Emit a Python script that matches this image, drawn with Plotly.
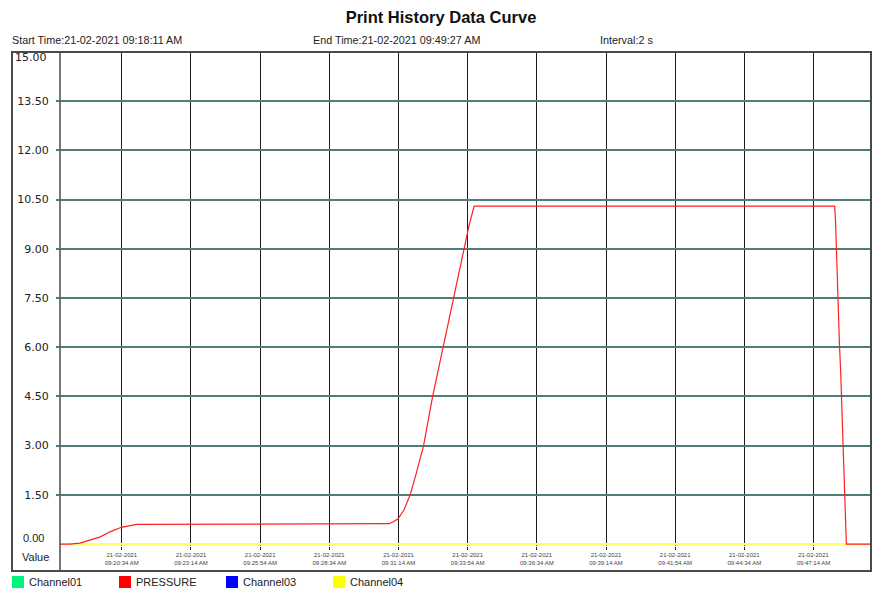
import plotly.graph_objects as go

# ---------------- data ----------------
title_text = "Print History Data Curve"
start_label = "Start Time:21-02-2021 09:18:11 AM"
end_label = "End Time:21-02-2021 09:49:27 AM"
interval_label = "Interval:2 s"

x_start = "2021-02-21 09:18:11"
x_end = "2021-02-21 09:49:27"

tick_times = ["2021-02-21 09:20:34", "2021-02-21 09:23:14", "2021-02-21 09:25:54",
              "2021-02-21 09:28:34", "2021-02-21 09:31:14", "2021-02-21 09:33:54",
              "2021-02-21 09:36:34", "2021-02-21 09:39:14", "2021-02-21 09:41:54",
              "2021-02-21 09:44:34", "2021-02-21 09:47:14"]
tick_clock = ["09:20:34 AM", "09:23:14 AM", "09:25:54 AM", "09:28:34 AM", "09:31:14 AM",
              "09:33:54 AM", "09:36:34 AM", "09:39:14 AM", "09:41:54 AM", "09:44:34 AM",
              "09:47:14 AM"]
tick_date = "21-02-2021"

y_ticks = [1.5, 3.0, 4.5, 6.0, 7.5, 9.0, 10.5, 12.0, 13.5]
y_tick_text = ["1.50", "3.00", "4.50", "6.00", "7.50", "9.00", "10.50", "12.00", "13.50"]
y_min_label = "0.00"
y_max_label = "15.00"
y_axis_name = "Value"

pressure_time = [
    "2021-02-21 09:18:11", "2021-02-21 09:18:34", "2021-02-21 09:18:57", "2021-02-21 09:19:20",
    "2021-02-21 09:19:43", "2021-02-21 09:20:08", "2021-02-21 09:20:33", "2021-02-21 09:21:08",
    "2021-02-21 09:30:44", "2021-02-21 09:30:52", "2021-02-21 09:31:02", "2021-02-21 09:31:13",
    "2021-02-21 09:31:26", "2021-02-21 09:31:41", "2021-02-21 09:31:56", "2021-02-21 09:32:12",
    "2021-02-21 09:32:33", "2021-02-21 09:32:57", "2021-02-21 09:33:21", "2021-02-21 09:33:45",
    "2021-02-21 09:33:57", "2021-02-21 09:34:09",
    "2021-02-21 09:48:03", "2021-02-21 09:48:05", "2021-02-21 09:48:07", "2021-02-21 09:48:10",
    "2021-02-21 09:48:12", "2021-02-21 09:48:14", "2021-02-21 09:48:17", "2021-02-21 09:48:19",
    "2021-02-21 09:48:21", "2021-02-21 09:48:24", "2021-02-21 09:48:26", "2021-02-21 09:48:28",
    "2021-02-21 09:48:30", "2021-02-21 09:49:27",
]
pressure_value = [
    0.0, 0.0, 0.03, 0.11,
    0.21, 0.38, 0.51, 0.60,
    0.60, 0.62, 0.68, 0.77,
    1.02, 1.50, 2.20, 3.00,
    4.50, 6.00, 7.50, 9.00,
    9.70, 10.30,
    10.30, 9.82, 8.90, 7.99,
    7.07, 6.11, 5.19, 4.28,
    3.36, 2.45, 1.53, 0.56,
    0.0, 0.0,
]

ch04_time = [x_start, x_end]
ch04_value = [0.0, 0.0]

legend_names = ["Channel01", "PRESSURE", "Channel03", "Channel04"]
legend_colors = ["#00f57a", "#ff0000", "#0000ff", "#ffff00"]

# ---------------- layout helpers ----------------
W, H = 874, 589
L, R, T, B = 60, 3, 52, 43
PW = W - L - R
PH = H - T - B


def px_x(p):
    return (p - L) / PW


def px_y(p):
    return (H - B - p) / PH


fig = go.Figure()

fig.add_trace(go.Scatter(x=ch04_time, y=ch04_value, mode="lines",
                         line=dict(color="#ffff66", width=2.2),
                         name=legend_names[3], showlegend=False, hoverinfo="skip"))
fig.add_trace(go.Scatter(x=pressure_time, y=pressure_value, mode="lines",
                         line=dict(color="#ff2020", width=1.2),
                         name=legend_names[1], showlegend=False))

tick_text = [f"{tick_date}<br>{c}" for c in tick_clock]

fig.update_xaxes(
    type="date", range=[x_start, x_end],
    tickmode="array", tickvals=tick_times, ticktext=tick_text,
    showgrid=True, gridcolor="#1a1a1a", gridwidth=1,
    ticks="outside", ticklen=3, tickcolor="#1a1a1a", tickwidth=1,
    tickfont=dict(family="Liberation Sans, Arial", size=6, color="#444444"),
    showline=False, zeroline=False, fixedrange=True,
)
fig.update_yaxes(
    range=[-0.06, 15], tickmode="array", tickvals=y_ticks, ticktext=y_tick_text,
    showgrid=True, gridcolor="#4f7d7b", gridwidth=1.5,
    ticks="outside", ticklen=3, tickcolor="#4f7d7b", tickwidth=1.5,
    tickfont=dict(family="DejaVu Sans, Verdana, sans-serif", size=11, color="#222222"),
    ticklabelstandoff=5,
    showline=False, zeroline=False, fixedrange=True,
)

shapes = []
# outer frame
shapes.append(dict(type="rect", xref="paper", yref="paper",
                   x0=px_x(12), x1=px_x(871), y0=px_y(571), y1=px_y(52),
                   line=dict(color="#4a4a4a", width=2), fillcolor="rgba(0,0,0,0)", layer="above"))
# divider between label column and plot
shapes.append(dict(type="line", xref="paper", yref="paper",
                   x0=px_x(60), x1=px_x(60), y0=px_y(571), y1=px_y(52),
                   line=dict(color="#4a4a4a", width=1.5), layer="above"))

annotations = []
# y end labels
annotations.append(dict(text=y_min_label, xref="paper", yref="paper", x=px_x(46), y=px_y(538),
                        xanchor="right", yanchor="middle", showarrow=False,
                        font=dict(family="Liberation Sans, Arial", size=11, color="#222222")))
annotations.append(dict(text=y_max_label, xref="paper", yref="paper", x=px_x(49), y=px_y(57),
                        xanchor="right", yanchor="middle", showarrow=False,
                        font=dict(family="DejaVu Sans, Verdana, sans-serif", size=11, color="#222222")))
annotations.append(dict(text=y_axis_name, xref="paper", yref="paper", x=px_x(35), y=px_y(557),
                        xanchor="center", yanchor="middle", showarrow=False,
                        font=dict(family="Liberation Sans, Arial", size=11, color="#222222")))
# header texts
for txt, xp in [(start_label, 10), (end_label, 311), (interval_label, 598)]:
    annotations.append(dict(text=txt, xref="paper", yref="paper", x=px_x(xp), y=px_y(40),
                            xanchor="left", yanchor="middle", showarrow=False,
                            font=dict(family="Liberation Sans, Arial", size=10.8, color="#222222")))

# legend (squares + names)
sq_left = [12, 119, 226, 333]
for name, col, xl in zip(legend_names, legend_colors, sq_left):
    shapes.append(dict(type="rect", xref="paper", yref="paper",
                       x0=px_x(xl), x1=px_x(xl + 12), y0=px_y(588), y1=px_y(576),
                       line=dict(width=0), fillcolor=col, layer="above"))
    annotations.append(dict(text=name, xref="paper", yref="paper", x=px_x(xl + 15), y=px_y(582),
                            xanchor="left", yanchor="middle", showarrow=False,
                            font=dict(family="Liberation Sans, Arial", size=11, color="#222222")))

fig.update_layout(
    width=W, height=H,
    margin=dict(l=L, r=R, t=T, b=B, pad=0),
    paper_bgcolor="white", plot_bgcolor="white",
    showlegend=False,
    title=dict(text=f"<b>{title_text}</b>", x=441 / W, xanchor="center",
               y=1 - 17 / H, yanchor="middle", yref="container",
               font=dict(family="Liberation Sans, Arial", size=16.5, color="#111111")),
    shapes=shapes, annotations=annotations,
)

fig.write_html("out.html", config={"displayModeBar": False},
               post_script="document.body.style.margin='0';document.body.style.overflow='hidden';")
